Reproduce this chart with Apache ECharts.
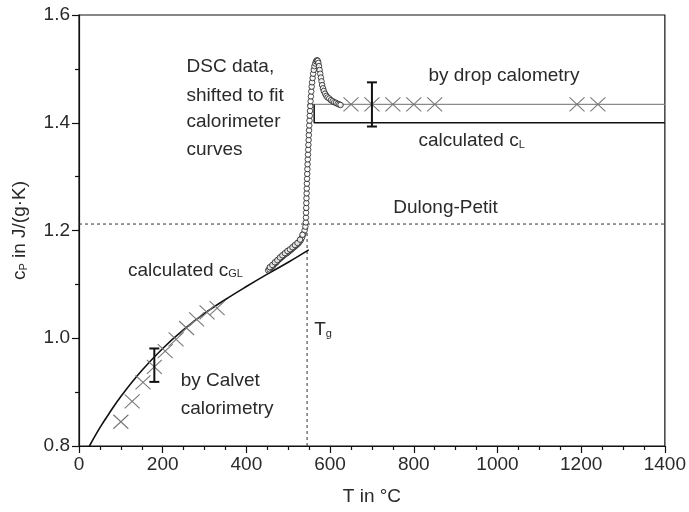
<!DOCTYPE html>
<html>
<head>
<meta charset="utf-8">
<script src="https://cdn.jsdelivr.net/npm/echarts@6/dist/echarts.min.js"></script>
<style>
  html, body { margin: 0; padding: 0; background: #fff; }
  #chart { width: 689px; height: 512px; }
</style>
</head>
<body>
<div id="chart"></div>
<script>
// Axis ranges and ticks
const xTicks = [0, 200, 400, 600, 800, 1000, 1200, 1400];
const yTicks = [0.8, 1.0, 1.2, 1.4, 1.6];

// Calculated cp of glass (c_GL), T in °C
const cglT = [25, 50, 75, 100, 150, 200, 250, 300, 350, 400, 450, 500, 549];
const cglV = [0.800, 0.834, 0.864, 0.892, 0.940, 0.981, 1.016, 1.046, 1.072, 1.096, 1.119, 1.141, 1.164];

// Calculated cp of the liquid (c_L)
const clT = [562, 562, 1400];
const clV = [1.434, 1.400, 1.400];

// Fit through drop calorimetry points
const dropLineT = [545, 1400];
const dropLineV = [1.434, 1.434];

// Dulong-Petit limit and glass transition temperature
const dulongPetit = 1.212;
const tg = 545;

// Calvet calorimetry points
const calvetT = [100, 127, 153, 180, 206, 232, 257, 281, 306, 330];
const calvetV = [0.845, 0.883, 0.918, 0.947, 0.976, 0.998, 1.019, 1.035, 1.048, 1.056];
const calvetErr = { t: 180, lo: 0.919, hi: 0.981 };

// Drop calorimetry points
const dropT = [650, 700, 750, 800, 850, 1190, 1240];
const dropV = [1.434, 1.434, 1.434, 1.434, 1.434, 1.434, 1.434];
const dropErr = { t: 700, lo: 1.393, hi: 1.475 };

// DSC data (shifted), two overlapping runs below the glass transition
const dscT = [452, 455, 458, 461, 464, 467, 470, 473, 476, 479, 482, 485, 488, 491, 494, 497, 500, 503, 506, 509,
  512, 515, 518, 521, 524, 527, 530, 533, 536, 539, 541, 542, 542.3, 542.6, 543, 543.3, 543.6, 544, 544.3, 544.6,
  545, 545.4, 545.8, 546.2, 546.7, 547.2, 547.7, 548.2, 548.7, 549.2, 549.7, 550.2, 550.8, 551.4, 552, 552.7, 553.4,
  554.2, 555, 556, 557, 558.2, 559.5, 561, 562.5, 564.5, 566.5, 568.5, 570.5, 572, 573.5, 575, 576.5, 578, 579.5,
  581, 583, 585, 588, 591, 594, 598, 602, 606, 610, 614, 618, 622, 625,
  456, 462, 468, 474, 480, 486, 492, 498, 504, 510, 516, 522, 528, 534];
const dscV = [1.126, 1.128, 1.131, 1.133, 1.135, 1.138, 1.140, 1.142, 1.145, 1.147, 1.149, 1.151, 1.153, 1.155, 1.157, 1.158, 1.160, 1.162, 1.164, 1.166,
  1.168, 1.170, 1.172, 1.174, 1.176, 1.179, 1.182, 1.187, 1.193, 1.200, 1.207, 1.215, 1.224, 1.233, 1.242, 1.251, 1.260, 1.269, 1.278, 1.287,
  1.296, 1.305, 1.314, 1.323, 1.332, 1.341, 1.350, 1.359, 1.368, 1.377, 1.386, 1.395, 1.404, 1.413, 1.422, 1.431, 1.440,
  1.449, 1.458, 1.467, 1.475, 1.483, 1.491, 1.498, 1.505, 1.510, 1.514, 1.516, 1.515, 1.511, 1.505, 1.498, 1.491, 1.484, 1.477,
  1.470, 1.464, 1.459, 1.454, 1.450, 1.447, 1.445, 1.442, 1.440, 1.438, 1.437, 1.435, 1.434, 1.433,
  1.132, 1.136, 1.141, 1.145, 1.150, 1.154, 1.158, 1.162, 1.165, 1.169, 1.173, 1.177, 1.183, 1.192];

const zip = (a, b) => a.map((v, i) => [v, b[i]]);

const FONT = 'Liberation Sans';
const TEXT = '#2a2a2a';
const FS = 19;

const chart = echarts.init(document.getElementById('chart'), null, { renderer: 'canvas' });

function crossItem(color) {
  return function (params, api) {
    const p = api.coord([api.value(0), api.value(1)]);
    const w = 7.5, h = 7;
    const st = { stroke: color, lineWidth: 1.1 };
    return {
      type: 'group',
      children: [
        { type: 'line', shape: { x1: p[0] - w, y1: p[1] - h, x2: p[0] + w, y2: p[1] + h }, style: st },
        { type: 'line', shape: { x1: p[0] - w, y1: p[1] + h, x2: p[0] + w, y2: p[1] - h }, style: st }
      ]
    };
  };
}

function errorItem(params, api) {
  const x = api.value(0);
  const top = api.coord([x, api.value(2)]);
  const bot = api.coord([x, api.value(1)]);
  const c = 5;
  const st = { stroke: '#111', lineWidth: 2 };
  return {
    type: 'group',
    children: [
      { type: 'line', shape: { x1: top[0], y1: top[1], x2: bot[0], y2: bot[1] }, style: st },
      { type: 'line', shape: { x1: top[0] - c, y1: top[1], x2: top[0] + c, y2: top[1] }, style: st },
      { type: 'line', shape: { x1: bot[0] - c, y1: bot[1], x2: bot[0] + c, y2: bot[1] }, style: st }
    ]
  };
}

const axisCommon = {
  axisLine: { show: true, onZero: false, lineStyle: { color: '#111', width: 1.2 } },
  axisTick: { show: true, inside: false, length: 7, lineStyle: { color: '#111', width: 1.2 } },
  minorTick: { show: true, length: 4, lineStyle: { color: '#111', width: 1.2 } },
  splitLine: { show: false },
  minorSplitLine: { show: false },
  axisLabel: { color: TEXT, fontFamily: FONT, fontSize: FS },
  nameTextStyle: { color: TEXT, fontFamily: FONT, fontSize: FS }
};

chart.setOption({
  animation: false,
  backgroundColor: '#fff',
  grid: { left: 79, right: 21, top: 15, bottom: 66, show: true, borderColor: '#111', borderWidth: 1.2, backgroundColor: 'transparent' },
  xAxis: Object.assign({}, axisCommon, {
    type: 'value', min: xTicks[0], max: xTicks[xTicks.length - 1], interval: 200,
    minorTick: Object.assign({}, axisCommon.minorTick, { splitNumber: 4 }),
    axisLabel: Object.assign({}, axisCommon.axisLabel, { margin: 9, formatter: v => String(v) }),
    name: 'T in °C', nameLocation: 'middle', nameGap: 41
  }),
  yAxis: Object.assign({}, axisCommon, {
    type: 'value', min: yTicks[0], max: yTicks[yTicks.length - 1], interval: 0.2,
    minorTick: Object.assign({}, axisCommon.minorTick, { splitNumber: 2 }),
    axisLabel: Object.assign({}, axisCommon.axisLabel, { margin: 9, formatter: v => v.toFixed(1) }),
    name: 'c{s|P} in J/(g·K)', nameLocation: 'middle', nameGap: 50, nameRotate: 90,
    nameTextStyle: {
      color: TEXT, fontFamily: FONT, fontSize: FS,
      rich: { s: { fontFamily: FONT, fontSize: 11, color: TEXT, verticalAlign: 'bottom' } }
    }
  }),
  series: [
    { // Dulong-Petit
      type: 'line', data: [[0, dulongPetit], [1400, dulongPetit]], symbol: 'none', silent: true,
      lineStyle: { color: '#333', width: 1, type: [3, 3] }, z: 1
    },
    { // T_g marker
      type: 'line', data: [[tg, 0.8], [tg, dulongPetit]], symbol: 'none', silent: true,
      lineStyle: { color: '#333', width: 1, type: [3, 3] }, z: 1
    },
    { // drop calorimetry fit
      type: 'line', data: zip(dropLineT, dropLineV), symbol: 'none',
      lineStyle: { color: '#8a8a8a', width: 1.3 }, z: 2
    },
    { // calculated c_L
      type: 'line', data: zip(clT, clV), symbol: 'none',
      lineStyle: { color: '#111', width: 1.5 }, z: 3
    },
    { // calculated c_GL
      type: 'line', data: zip(cglT, cglV), symbol: 'none', smooth: 0.4,
      lineStyle: { color: '#111', width: 1.6 }, z: 3
    },
    { // Calvet calorimetry
      type: 'custom', data: zip(calvetT, calvetV), renderItem: crossItem('#777'), z: 4
    },
    { // drop calorimetry
      type: 'custom', data: zip(dropT, dropV), renderItem: crossItem('#777'), z: 4
    },
    { // error bars
      type: 'custom', data: [[calvetErr.t, calvetErr.lo, calvetErr.hi], [dropErr.t, dropErr.lo, dropErr.hi]],
      renderItem: errorItem, z: 6
    },
    { // DSC
      type: 'scatter', data: zip(dscT, dscV), symbol: 'circle', symbolSize: 5.5,
      itemStyle: { color: '#fff', borderColor: '#1a1a1a', borderWidth: 1 }, z: 5
    }
  ]
});

// Annotations anchored at data coordinates
const notes = [
  { t: 257, v: 1.503, text: 'DSC data,' },
  { t: 257, v: 1.451, text: 'shifted to fit' },
  { t: 257, v: 1.401, text: 'calorimeter' },
  { t: 257, v: 1.349, text: 'curves' },
  { t: 835, v: 1.487, text: 'by drop calometry' },
  { t: 811, v: 1.366, text: 'calculated c{s|L}' },
  { t: 751, v: 1.242, text: 'Dulong-Petit' },
  { t: 117, v: 1.126, text: 'calculated c{s|GL}' },
  { t: 562, v: 1.015, text: 'T{s|g}' },
  { t: 243, v: 0.922, text: 'by Calvet' },
  { t: 243, v: 0.870, text: 'calorimetry' }
];

chart.setOption({
  graphic: notes.map(n => {
    const p = chart.convertToPixel({ gridIndex: 0 }, [n.t, n.v]);
    return {
      type: 'text', x: p[0], y: p[1], z: 10,
      style: {
        text: n.text, fill: TEXT, font: FS + 'px "' + FONT + '"',
        textAlign: 'left', textVerticalAlign: 'middle',
        rich: { s: { fontFamily: FONT, fontSize: 11, fill: TEXT, verticalAlign: 'bottom' } }
      }
    };
  })
});
</script>
</body>
</html>
